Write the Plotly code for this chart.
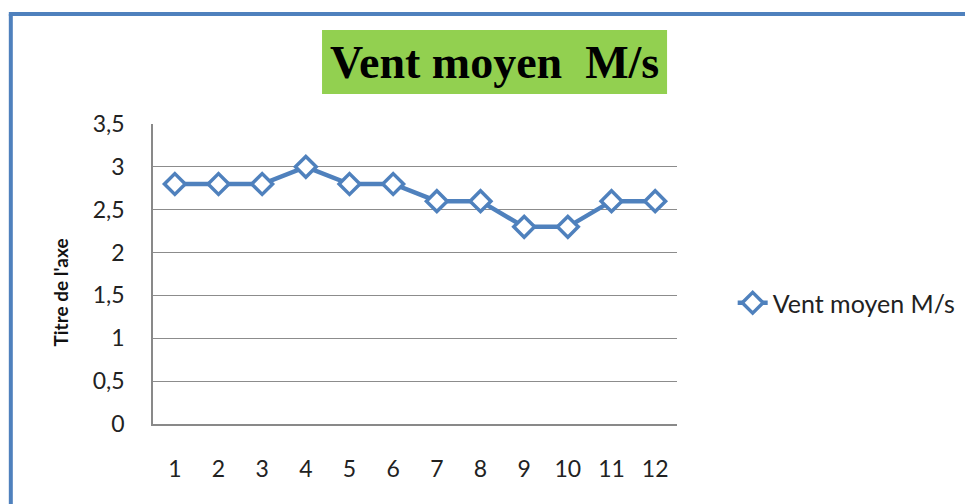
import plotly.graph_objects as go

months = [1, 2, 3, 4, 5, 6, 7, 8, 9, 10, 11, 12]
vent_moyen = [2.8, 2.8, 2.8, 3.0, 2.8, 2.8, 2.6, 2.6, 2.3, 2.3, 2.6, 2.6]
y_ticks = [0, 0.5, 1, 1.5, 2, 2.5, 3, 3.5]
series_name = "Vent moyen M/s"
title_text = "Vent moyen  M/s"
y_title = "Titre de l'axe"

OFF = 8  # page body margin
W, H = 973 - OFF, 504 - OFF
# plot area in screen pixels: x 153..680, y 124..424
SL, SR, ST, SB = 153, 680, 124, 424
L, T = SL - OFF, ST - OFF
R, B = W - (SR - OFF), H - (SB - OFF)
pw, ph = W - L - R, H - T - B

def px(x):
    return (x - SL) / pw

def py(y):
    return (SB - y) / ph

blue = "#4F81BD"
font_family = "Lato, Open Sans, sans-serif"

fig = go.Figure()
fig.add_trace(go.Scatter(
    x=[str(m) for m in months], y=vent_moyen, name=series_name,
    mode="lines+markers",
    line=dict(color=blue, width=4.5),
    marker=dict(symbol="diamond", size=16, color="white",
                line=dict(color=blue, width=3.5)),
))

fig.update_layout(
    width=W, height=H,
    margin=dict(l=L, r=R, t=T, b=B),
    paper_bgcolor="white", plot_bgcolor="white",
    separators=", ",
    font=dict(family=font_family, color="#222222", size=23),
    showlegend=True,
    legend=dict(x=px(736), y=py(303), xanchor="left", yanchor="middle",
                font=dict(size=25, color="#222222"), bgcolor="rgba(0,0,0,0)"),
    xaxis=dict(type="category", range=[-0.5, 11.5], showgrid=False,
               showline=True, linecolor="#898989", linewidth=1.5,
               ticks="", ticklabelstandoff=24, tickfont=dict(size=23)),
    yaxis=dict(range=[0, 3.5], tickvals=y_ticks, showgrid=True,
               gridcolor="#8C8C8C", gridwidth=1, zeroline=False,
               showline=True, linecolor="#898989", linewidth=1.5,
               ticks="", ticklabelstandoff=22, tickfont=dict(size=23)),
    shapes=[
        dict(type="rect", xref="paper", yref="paper",
             x0=px(323), x1=px(670), y0=py(94), y1=py(30),
             fillcolor="#92D050", line=dict(width=0), layer="below"),
        dict(type="line", xref="paper", yref="paper",
             x0=px(10), x1=px(10), y0=py(14), y1=py(520),
             line=dict(color=blue, width=4)),
        dict(type="line", xref="paper", yref="paper",
             x0=px(8), x1=px(990), y0=py(14), y1=py(14),
             line=dict(color=blue, width=4)),
    ],
    annotations=[
        dict(text="<b>" + title_text + "</b>", xref="paper", yref="paper",
             x=px(496), y=py(63), xanchor="center", yanchor="middle",
             showarrow=False,
             font=dict(family="Liberation Serif, Times New Roman, serif",
                       size=46, color="black")),
        dict(text="<b>" + y_title + "</b>", xref="paper", yref="paper",
             x=px(59), y=py(293), xanchor="center", yanchor="middle",
             textangle=-90, showarrow=False,
             font=dict(family=font_family, size=19, color="#111111")),
    ],
)

fig.write_html("out.html")
